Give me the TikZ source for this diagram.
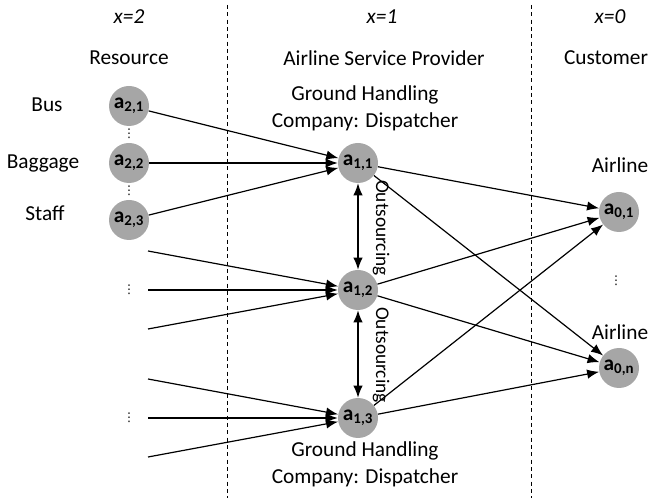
\documentclass[tikz,border=0pt]{standalone}
\usepackage{fontspec}
\setmainfont{Carlito}
\newfontfamily\symfont{DejaVu Sans}
\usetikzlibrary{arrows.meta}
\definecolor{nodegray}{RGB}{166,166,166}

\begin{document}
\begin{tikzpicture}[x=0.75pt, y=-0.75pt, font=\fontsize{16}{20}\selectfont,
    agent/.style={circle, fill=nodegray, minimum size=30pt, inner sep=0pt, font=\fontsize{16}{20}\selectfont\bfseries},
    flow/.style={line width=0.9pt},
    >={Latex[length=9pt, width=7pt]},
    border/.style={line width=0.7pt, dash pattern=on 3pt off 2.5pt},
    dots/.style={inner sep=0pt, font=\symfont\fontsize{9}{9}\selectfont}]
    \useasboundingbox (0,0) rectangle (653,498);
    \pgfmathsetmacro\r{129}
    \pgfmathsetmacro\s{358}
    \pgfmathsetmacro\c{619}
    % columns
    \coordinate (LineTop) at (227,5);
    \coordinate (LineBot) at (227,498);
    \draw[border] (LineTop) -- (LineBot);
    \coordinate (LineTopR) at (531,5);
    \coordinate (LineBotR) at (531,498);
    \draw[border] (LineTopR) -- (LineBotR);
    \node[font=\fontsize{16}{20}\selectfont\itshape] (lvl2) at (\r,17) {x=2};
    \node[font=\fontsize{16}{20}\selectfont\itshape] (lvl1) at (382,17) {x=1};
    \node[font=\fontsize{16}{20}\selectfont\itshape] (lvl0) at (610,17) {x=0};
    \node (res) at (\r,58) {Resource};
    \node (asp) at (384,58) {Airline Service Provider};
    \node (cus) at (606,58) {Customer};
    % resources
    \node[agent] (a21) at (\r,106) {a\textsubscript{2,1}};
    \node[agent] (a22) at (\r,163) {a\textsubscript{2,2}};
    \node[agent] (a23) at (\r,220) {a\textsubscript{2,3}};
    \node (bus) at (47,105) {Bus};
    \node (bag) at (43,163) {Baggage};
    \node (staff) at (45,213) {Staff};
    \node[dots] (d1) at (\r,134) {⋮};
    \node[dots] (d2) at (\r,191) {⋮};
    \node[dots] (d3) at (\r,290) {⋮};
    \node[dots] (d4) at (\r,418) {⋮};
    % service providers
    \node[agent] (a11) at (\s,163) {a\textsubscript{1,1}};
    \node[agent] (a12) at (\s,290) {a\textsubscript{1,2}};
    \node[agent] (a13) at (\s,418) {a\textsubscript{1,3}};
    \node[align=center] (gh1) at (365,108) {Ground Handling\\Company: Dispatcher};
    \node[align=center] (gh2) at (365,464) {Ground Handling\\Company: Dispatcher};
    % customers
    \node[agent] (a01) at (\c,212) {a\textsubscript{0,1}};
    \node[agent] (a0n) at (\c,368) {a\textsubscript{0,n}};
    \node (air1) at (620,165) {Airline};
    \node (air2) at (620,332) {Airline};
    \node[dots] (d5) at (616,281) {⋮};
    % inputs
    \draw[flow, ->] (a21) -- (a11);
    \draw[flow, ->] (a22) -- (a11);
    \draw[flow, ->] (a23) -- (a11);
    \coordinate (In1) at (148,251);
    \coordinate (In2) at (148,290);
    \coordinate (In3) at (148,329);
    \coordinate (In4) at (148,379);
    \coordinate (In5) at (148,418);
    \coordinate (In6) at (148,457);
    \draw[flow, ->] (In1) -- (a12);
    \draw[flow, ->] (In2) -- (a12);
    \draw[flow, ->] (In3) -- (a12);
    \draw[flow, ->] (In4) -- (a13);
    \draw[flow, ->] (In5) -- (a13);
    \draw[flow, ->] (In6) -- (a13);
    % outsourcing
    \draw[flow, <->] (a11) -- (a12);
    \draw[flow, <->] (a12) -- (a13);
    \node[rotate=-90, font=\fontsize{14.5}{18}\selectfont] (out1) at (381,228) {Outsourcing};
    \node[rotate=-90, font=\fontsize{14.5}{18}\selectfont] (out2) at (381,355) {Outsourcing};
    % outputs
    \draw[flow, ->] (a11) -- (a01);
    \draw[flow, ->] (a11) -- (a0n);
    \draw[flow, ->] (a12) -- (a01);
    \draw[flow, ->] (a12) -- (a0n);
    \draw[flow, ->] (a13) -- (a01);
    \draw[flow, ->] (a13) -- (a0n);
\end{tikzpicture}
\end{document}
